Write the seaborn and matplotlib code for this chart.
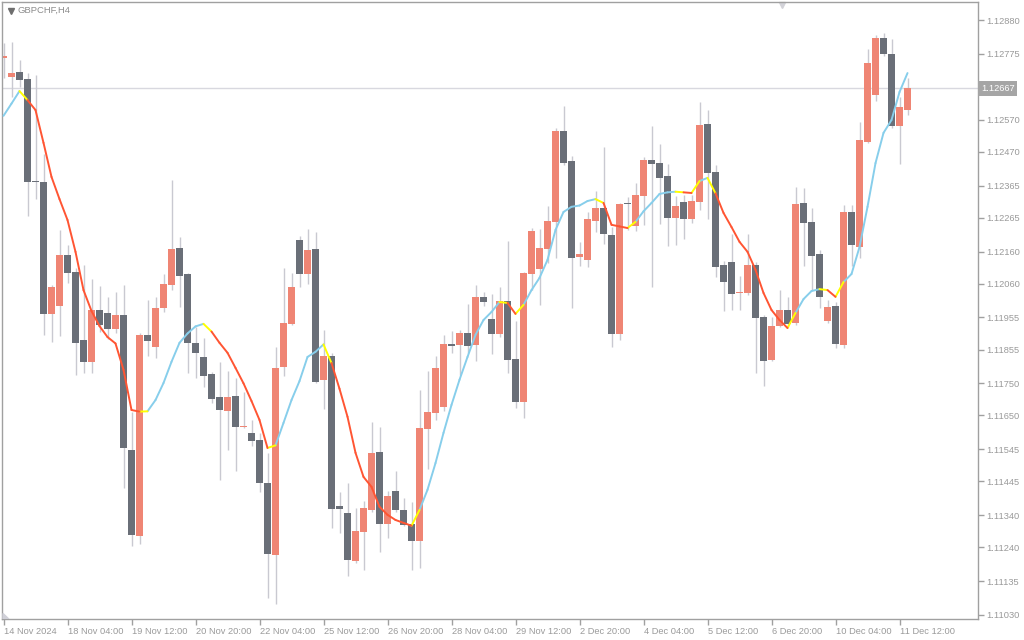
import numpy as np
import pandas as pd
import matplotlib
matplotlib.use("Agg")
import matplotlib.pyplot as plt
import matplotlib.transforms as mtransforms
import seaborn as sns

# GBPCHF H4 candles (one bar per 4 hours)
opens = [
    1.12762, 1.12704, 1.12719, 1.12695, 1.12379, 1.12377, 1.11966, 1.11991, 1.12149, 1.12096,
    1.11885, 1.11817, 1.11978, 1.11969, 1.11919, 1.11963, 1.11543, 1.11276, 1.11901, 1.11863,
    1.11984, 1.12056, 1.12171, 1.12090, 1.11876, 1.11832, 1.11779, 1.11708, 1.11664, 1.11711,
    1.11614, 1.11596, 1.11574, 1.11440, 1.11216, 1.11801, 1.11935, 1.12196, 1.12090, 1.12168,
    1.11761, 1.11835, 1.11369, 1.11347, 1.11198, 1.11288, 1.11356, 1.11537, 1.11313, 1.11415,
    1.11356, 1.11313, 1.11260, 1.11608, 1.11658, 1.11677, 1.11873, 1.11869, 1.11907, 1.11869,
    1.12019, 1.11950, 1.11904, 1.12006, 1.11826, 1.11692, 1.12090, 1.12106, 1.12168, 1.12252,
    1.12535, 1.12442, 1.12143, 1.12134, 1.12255, 1.12295, 1.12211, 1.11904, 1.12311, 1.12239,
    1.12333, 1.12445, 1.12435, 1.12395, 1.12264, 1.12314, 1.12261, 1.12314, 1.12557, 1.12407,
    1.12118, 1.12128, 1.12031, 1.12031, 1.12118, 1.11956, 1.11823, 1.11928, 1.11978, 1.11938,
    1.12311, 1.12252, 1.12152, 1.11944, 1.11991, 1.11869, 1.12283, 1.12174, 1.12501, 1.12647,
    1.12824, 1.12774, 1.12550, 1.12600,
]
highs = [
    1.12808, 1.12812, 1.12756, 1.12716, 1.12709, 1.12463, 1.12056, 1.12227, 1.12180, 1.12109,
    1.12118, 1.12075, 1.12053, 1.12019, 1.12034, 1.12056, 1.11661, 1.11907, 1.12009, 1.12019,
    1.12090, 1.12382, 1.12205, 1.12093, 1.11925, 1.11891, 1.11785, 1.11817, 1.11789, 1.11767,
    1.11723, 1.11636, 1.11596, 1.11534, 1.11863, 1.12109, 1.12093, 1.12208, 1.12230, 1.12221,
    1.11916, 1.11845, 1.11412, 1.11440, 1.11363, 1.11384, 1.11630, 1.11614, 1.11415, 1.11478,
    1.11394, 1.11381, 1.11729, 1.11789, 1.11835, 1.11901, 1.11913, 1.11916, 1.11997, 1.12056,
    1.12034, 1.12028, 1.12050, 1.12193, 1.11944, 1.12096, 1.12233, 1.12230, 1.12302, 1.12544,
    1.12613, 1.12457, 1.12190, 1.12283, 1.12348, 1.12485, 1.12236, 1.12311, 1.12330, 1.12373,
    1.12454, 1.12550, 1.12494, 1.12432, 1.12333, 1.12336, 1.12336, 1.12625, 1.12600, 1.12429,
    1.12131, 1.12215, 1.12084, 1.12215, 1.12128, 1.11963, 1.11956, 1.12040, 1.12019, 1.12361,
    1.12358, 1.12295, 1.12165, 1.12009, 1.12003, 1.12305, 1.12305, 1.12563, 1.12790, 1.12833,
    1.12840, 1.12821, 1.12641, 1.12700,
]
lows = [
    1.12700, 1.12641, 1.12672, 1.12271, 1.12323, 1.11901, 1.11879, 1.11897, 1.12062, 1.11776,
    1.11782, 1.11782, 1.11910, 1.11888, 1.11907, 1.11425, 1.11244, 1.11251, 1.11835, 1.11829,
    1.11972, 1.12040, 1.11988, 1.11782, 1.11767, 1.11739, 1.11689, 1.11450, 1.11543, 1.11478,
    1.11611, 1.11555, 1.11412, 1.11083, 1.11064, 1.11773, 1.11932, 1.12050, 1.12059, 1.11751,
    1.11670, 1.11300, 1.11285, 1.11151, 1.11192, 1.11170, 1.11350, 1.11226, 1.11269, 1.11350,
    1.11307, 1.11170, 1.11176, 1.11484, 1.11636, 1.11664, 1.11845, 1.11776, 1.11845, 1.11820,
    1.11991, 1.11841, 1.11894, 1.11782, 1.11674, 1.11642, 1.12040, 1.11994, 1.12124, 1.12140,
    1.12429, 1.11984, 1.12115, 1.12112, 1.12221, 1.12183, 1.11863, 1.11885, 1.12227, 1.12224,
    1.12243, 1.12050, 1.12246, 1.12177, 1.12180, 1.12199, 1.12249, 1.12289, 1.12261, 1.12081,
    1.11975, 1.11978, 1.11978, 1.12025, 1.11782, 1.11742, 1.11820, 1.11925, 1.11925, 1.11932,
    1.12115, 1.12040, 1.11984, 1.11938, 1.11860, 1.11860, 1.12115, 1.12140, 1.12498, 1.12628,
    1.12768, 1.12544, 1.12432, 1.12585,
]
closes = [
    1.12768, 1.12716, 1.12693, 1.12377, 1.12376, 1.11966, 1.12050, 1.12149, 1.12093, 1.11876,
    1.11817, 1.11978, 1.11932, 1.11919, 1.11963, 1.11549, 1.11279, 1.11901, 1.11882, 1.11984,
    1.12059, 1.12168, 1.12084, 1.11876, 1.11845, 1.11773, 1.11701, 1.11667, 1.11708, 1.11614,
    1.11618, 1.11571, 1.11440, 1.11220, 1.11798, 1.11938, 1.12050, 1.12090, 1.12165, 1.11754,
    1.11835, 1.11359, 1.11359, 1.11201, 1.11291, 1.11363, 1.11534, 1.11313, 1.11400, 1.11356,
    1.11310, 1.11260, 1.11611, 1.11661, 1.11798, 1.11873, 1.11866, 1.11907, 1.11866, 1.12019,
    1.12003, 1.11904, 1.12006, 1.11823, 1.11692, 1.12093, 1.12224, 1.12171, 1.12255, 1.12535,
    1.12435, 1.12140, 1.12152, 1.12261, 1.12295, 1.12215, 1.11904, 1.12308, 1.12308, 1.12336,
    1.12445, 1.12432, 1.12389, 1.12264, 1.12302, 1.12261, 1.12317, 1.12554, 1.12404, 1.12112,
    1.12065, 1.12028, 1.12034, 1.12118, 1.11953, 1.11820, 1.11928, 1.11978, 1.11935, 1.12308,
    1.12249, 1.12146, 1.12019, 1.11988, 1.11873, 1.12283, 1.12180, 1.12507, 1.12746, 1.12824,
    1.12774, 1.12550, 1.12609, 1.12667,
]
# moving average drawn over the candles
ma_values = [
    1.12582, 1.12620, 1.12659, 1.12631, 1.12600, 1.12498, 1.12392, 1.12323, 1.12258, 1.12159,
    1.12040, 1.11975, 1.11928, 1.11894, 1.11874, 1.11792, 1.11667, 1.11662, 1.11663, 1.11698,
    1.11751, 1.11817, 1.11876, 1.11905, 1.11927, 1.11935, 1.11911, 1.11876, 1.11845, 1.11798,
    1.11750, 1.11695, 1.11636, 1.11549, 1.11557, 1.11627, 1.11698, 1.11757, 1.11832, 1.11848,
    1.11871, 1.11813, 1.11733, 1.11646, 1.11534, 1.11459, 1.11428, 1.11366, 1.11341, 1.11325,
    1.11316, 1.11307, 1.11356, 1.11419, 1.11502, 1.11596, 1.11683, 1.11761, 1.11832, 1.11901,
    1.11947, 1.11972, 1.12003, 1.12000, 1.11966, 1.11994, 1.12040, 1.12078, 1.12134, 1.12227,
    1.12283, 1.12299, 1.12303, 1.12317, 1.12323, 1.12311, 1.12243, 1.12238, 1.12233, 1.12252,
    1.12285, 1.12311, 1.12339, 1.12344, 1.12346, 1.12344, 1.12342, 1.12379, 1.12389, 1.12341,
    1.12280, 1.12236, 1.12190, 1.12159, 1.12103, 1.12031, 1.11978, 1.11947, 1.11922, 1.11969,
    1.12012, 1.12037, 1.12043, 1.12040, 1.12019, 1.12065, 1.12090, 1.12174, 1.12299, 1.12435,
    1.12529, 1.12569, 1.12656, 1.12715,
]

x_tick_labels = ["14 Nov 2024", "18 Nov 04:00", "19 Nov 12:00", "20 Nov 20:00", "22 Nov 04:00",
                 "25 Nov 12:00", "26 Nov 20:00", "28 Nov 04:00", "29 Nov 12:00", "2 Dec 20:00",
                 "4 Dec 04:00", "5 Dec 12:00", "6 Dec 20:00", "10 Dec 04:00", "11 Dec 12:00"]
y_ticks = [1.12880, 1.12775, 1.12570, 1.12470, 1.12365, 1.12265, 1.12160, 1.12060, 1.11955,
           1.11855, 1.11750, 1.11650, 1.11545, 1.11445, 1.11340, 1.11240, 1.11135, 1.11030]
last_price = 1.12667

UP_COL = "#EF8574"
DOWN_COL = "#6A6F78"
WICK_COL = "#C9C9D1"
GREY = "#A0A0A0"
MA_PALETTE = {"up": "#87CEEB", "down": "#FF5533", "turn": "#FFFF00"}

sns.set_style("white")
plt.rcParams['font.family'] = ['Liberation Sans', 'DejaVu Sans']

df = pd.DataFrame({"open": opens, "high": highs, "low": lows, "close": closes})
df["bar"] = np.arange(len(df))
bull = df["close"] >= df["open"]

# MA segments: blue rising, red falling, yellow where direction flips
seg_rows = []
prev_dir = None
for k in range(len(ma_values) - 1):
    d = "up" if ma_values[k + 1] >= ma_values[k] else "down"
    kind = "turn" if (prev_dir is not None and d != prev_dir) else d
    prev_dir = d
    seg_rows.append({"bar": k, "ma": ma_values[k], "seg": k, "kind": kind})
    seg_rows.append({"bar": k + 1, "ma": ma_values[k + 1], "seg": k, "kind": kind})
ma_df = pd.DataFrame(seg_rows)

fig = plt.figure(figsize=(10.24, 6.4), dpi=100)
ax = fig.add_axes([2 / 1024, 21 / 640, 976 / 1024, 617 / 640])

ax.axhline(last_price, color="#D8D8DF", lw=1, zorder=0)

ax.vlines(df["bar"], df["low"], df["high"], color=WICK_COL, lw=1, zorder=1)
body_h = (df["close"] - df["open"]).abs().clip(lower=0.00003)
body_b = df[["open", "close"]].min(axis=1)
ax.bar(df["bar"], body_h, bottom=body_b, width=0.82,
       color=np.where(bull, UP_COL, DOWN_COL), linewidth=0, zorder=2)

sns.lineplot(data=ma_df, x="bar", y="ma", hue="kind", units="seg", estimator=None,
             palette=MA_PALETTE, legend=False, linewidth=1.4, sort=False, ax=ax, zorder=4)

ax.set_xlim(-0.1875, 121.81)
ax.set_ylim(1.11017, 1.12936)
ax.set_xlabel("")
ax.set_ylabel("")

ax.set_xticks(np.arange(0, 8 * len(x_tick_labels), 8))
ax.set_xticklabels(x_tick_labels)
for lbl in ax.get_xticklabels():
    lbl.set_horizontalalignment("left")
ax.set_yticks(y_ticks)
ax.set_yticklabels([f"{v:.5f}" for v in y_ticks])

ax.yaxis.tick_right()
ax.tick_params(axis="y", right=True, left=False, length=4, width=1, color=GREY,
               labelcolor="#9A9A9A", labelsize=6.7, pad=2)
ax.tick_params(axis="x", bottom=True, length=4, width=1, color=GREY,
               labelcolor="#9A9A9A", labelsize=6.7, pad=1.5)
for s in ax.spines.values():
    s.set_color(GREY)
    s.set_linewidth(1)
    s.set_visible(True)

# current price tag on the price scale
blend = mtransforms.blended_transform_factory(ax.transAxes, ax.transData)
ax.text(1.0 + 3 / 976, last_price, f"{last_price:.5f}", transform=blend, ha="left",
        va="center", color="white", fontsize=6.7,
        bbox=dict(boxstyle="square,pad=0.3", fc="#A5A5A5", ec="none"), clip_on=False)

# symbol caption and small chart markers
fig.text(18 / 1024, 1 - 10 / 640, "GBPCHF,H4", color="#8C8C8C", fontsize=6.8, va="center")
ax.plot([9 / 976], [1 - 9 / 617], marker="v", ms=4, color="#6E6E6E",
        transform=ax.transAxes, clip_on=False)
ax.plot([780 / 976], [1 - 2.5 / 617], marker="v", ms=5, color="#D2D2D8",
        transform=ax.transAxes, clip_on=False)
ax.fill([0.001, 0.007, 0.001], [0.0, 0.0, 0.009], color="#D0D0D8",
        transform=ax.transAxes, zorder=5)

fig.savefig("out.png", dpi=100)
